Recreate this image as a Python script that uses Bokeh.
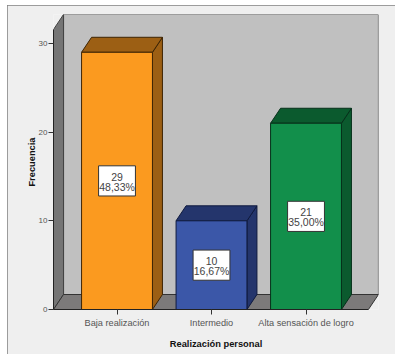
from bokeh.plotting import figure
from bokeh.embed import file_html
from bokeh.resources import INLINE
from bokeh.core.properties import value
from bokeh.models import Range1d, FixedTicker

categories = ["Baja realización", "Intermedio", "Alta sensación de logro"]
counts = [29, 10, 21]
percents = ["48,33%", "16,67%", "35,00%"]
y_ticks = [0, 10, 20, 30]
front_colors = ["#FB9A1F", "#3B57A8", "#128F4B"]
depth_colors = ["#9C5F14", "#24356C", "#0B5A2E"]
edge_colors = ["#3D2404", "#0F1A3E", "#06301A"]

X0, X_END, X1 = -0.672, 2.66, 2.767
Y1 = 33.26
DX, DY = 0.1058, 1.69
BAR_W = 0.75
BOX_W, BOX_H = 0.39, 3.4

p = figure(width=388, height=349, output_backend="svg", toolbar_location=None,
           x_range=Range1d(X0, X1), y_range=Range1d(0, Y1),
           min_border_left=46, min_border_right=17, min_border_top=9, min_border_bottom=45,
           margin=(5, 0, 0, 7),
           styles={"outline": "2px solid #808080", "outline-offset": "-2px"},
           background_fill_color="#EFEFEF", border_fill_color="#EFEFEF", outline_line_color=None)
p.grid.visible = False

# walls and floor
p.patch([X0 + DX, X1, X1, X0 + DX], [DY, DY, Y1, Y1], fill_color="#C0C0C0",
        line_color="#555555", line_width=1.2)
p.patch([X0, X0 + DX, X0 + DX, X0], [0, DY, Y1, Y1 - DY], fill_color="#757575",
        line_color="#444444", line_width=1)
p.patch([X0, X0 + DX, X1, X_END], [0, DY, DY, 0], fill_color="#7C7A7A",
        line_color="#333333", line_width=1)

# bars
for i, v in enumerate(counts):
    l, r = i - BAR_W / 2, i + BAR_W / 2
    p.patch([r, r + DX, r + DX, r], [0, DY, v + DY, v],
            fill_color=depth_colors[i], line_color=edge_colors[i], line_width=1)
    p.patch([l, r, r + DX, l + DX], [v, v, v + DY, v + DY],
            fill_color=depth_colors[i], line_color=edge_colors[i], line_width=1)
    p.quad(left=l, right=r, bottom=0, top=v,
           fill_color=front_colors[i], line_color=edge_colors[i], line_width=1)
    p.quad(left=i - BOX_W / 2, right=i + BOX_W / 2, bottom=v / 2 - BOX_H / 2, top=v / 2 + BOX_H / 2,
           fill_color="white", line_color="#333333", line_width=1)
    p.text(x=[i], y=[v / 2], text=[str(v)], text_align="center", text_baseline="bottom",
           text_font=value("Liberation Sans"), text_font_size="10.5px", text_color="#444444")
    p.text(x=[i], y=[v / 2], text=[percents[i]], text_align="center", text_baseline="top",
           text_font=value("Liberation Sans"), text_font_size="10.5px", text_color="#444444")

# axes
xa = p.xaxis[0]
xa.ticker = FixedTicker(ticks=list(range(len(categories))))
xa.major_label_overrides = {i: c for i, c in enumerate(categories)}
xa.bounds = (X0, X_END)
xa.axis_label = "Realización personal"
ya = p.yaxis[0]
ya.ticker = FixedTicker(ticks=y_ticks)
ya.bounds = (0, Y1 - DY)
ya.axis_label = "Frecuencia"
for a in (xa, ya):
    a.axis_line_color = "#222222"
    a.major_tick_line_color = "#333333"
    a.major_tick_in = 0
    a.major_tick_out = 5
    a.minor_tick_line_color = None
    a.major_label_text_font = "Liberation Sans"
    a.major_label_text_color = "#555555"
    a.axis_label_text_font = "Liberation Sans"
    a.axis_label_text_font_style = "bold"
    a.axis_label_text_font_size = "9.3px"
    a.axis_label_text_color = "#111111"
xa.major_label_text_font_size = "9.2px"
ya.major_label_text_font_size = "8px"
xa.major_label_standoff = 3
ya.major_label_standoff = 1
xa.axis_label_standoff = 8
ya.axis_label_standoff = -1

open("out.html", "w").write(file_html(p, INLINE))
